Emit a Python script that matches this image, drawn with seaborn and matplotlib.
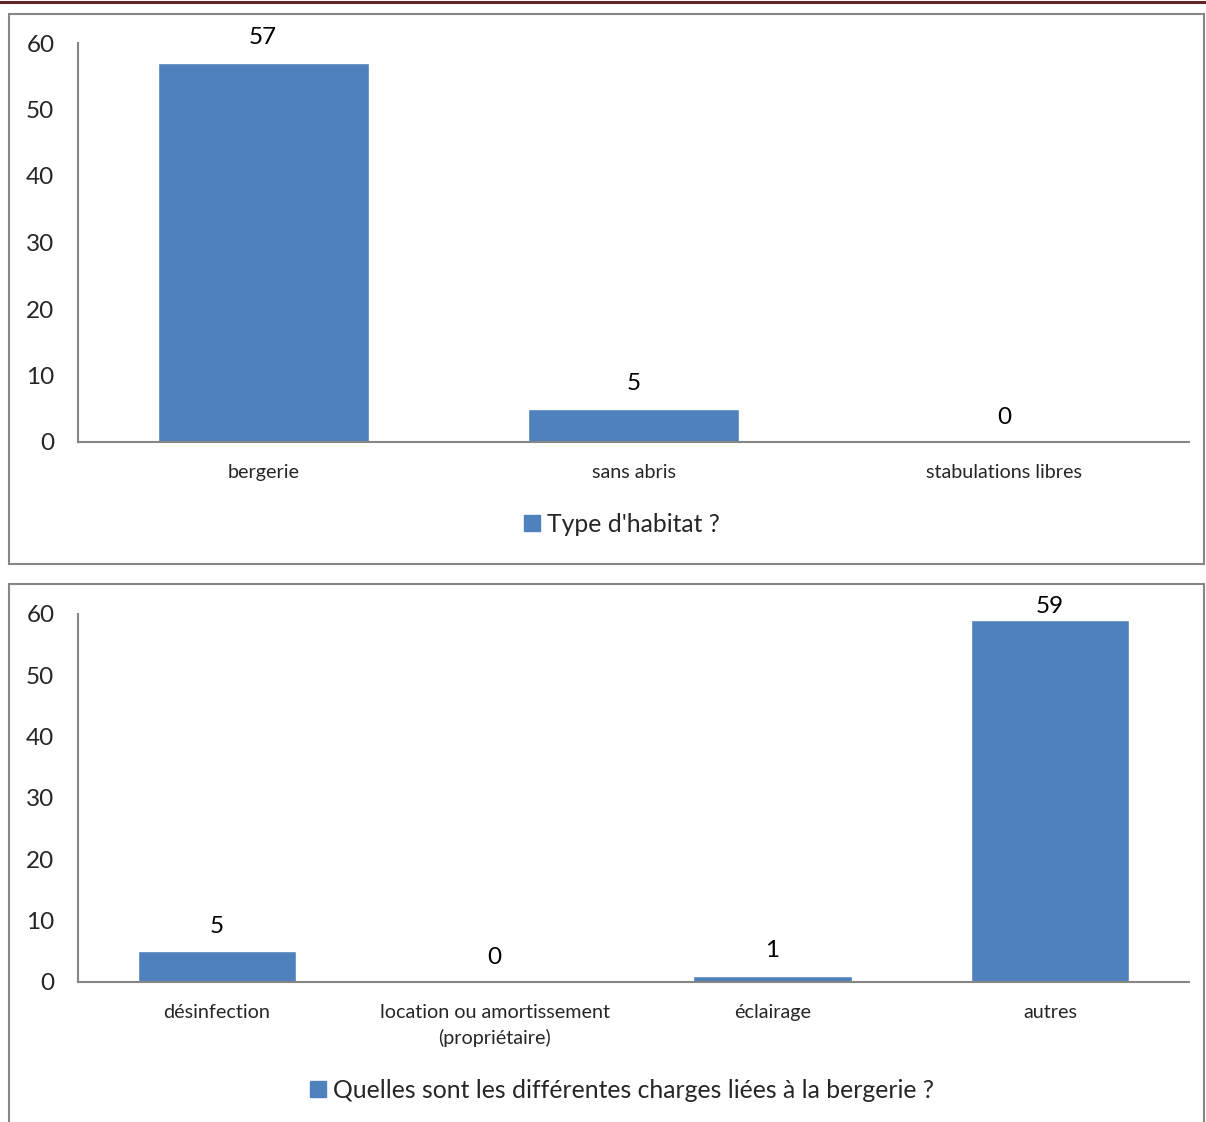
import matplotlib
matplotlib.use("Agg")
import matplotlib.pyplot as plt
import seaborn as sns
from matplotlib.patches import Rectangle, Patch
from matplotlib.lines import Line2D

sns.set_theme(style="white")
plt.rcParams['font.family'] = ['Lato', 'DejaVu Sans']

# ---- data ----
habitat_cats = ["bergerie", "sans abris", "stabulations libres"]
habitat_vals = [57, 5, 0]
habitat_title = "Type d'habitat ?"

charges_cats = ["désinfection", "location ou amortissement\n(propriétaire)", "éclairage", "autres"]
charges_vals = [5, 0, 1, 59]
charges_title = "Quelles sont les différentes charges liées à la bergerie ?"

yticks = [0, 10, 20, 30, 40, 50, 60]

BAR = "#4F81BD"
GREY = "#868686"
W, H = 1206, 1122

fig = plt.figure(figsize=(W / 100, H / 100), dpi=100)

def fx(px):
    return px / W

def fy(py):
    return 1 - py / H

# header line
fig.add_artist(Line2D([0, 1], [fy(2), fy(2)], color="#632523", lw=2.2, transform=fig.transFigure))
# chart boxes
fig.add_artist(Rectangle((fx(9), fy(564)), fx(1204) - fx(9), fy(14) - fy(564),
                         transform=fig.transFigure, fill=False, ec=GREY, lw=1.5))
fig.add_artist(Rectangle((fx(9), fy(1140)), fx(1204) - fx(9), fy(584) - fy(1140),
                         transform=fig.transFigure, fill=False, ec=GREY, lw=1.5, clip_on=False))


def draw(cats, vals, title, x0, x1, ytop, ybot, leg_y):
    ax = fig.add_axes([fx(x0), fy(ybot), fx(x1) - fx(x0), fy(ytop) - fy(ybot)])
    sns.barplot(x=cats, y=vals, color=BAR, width=0.57, ax=ax, saturation=1)
    ax.set_ylim(0, 60)
    ax.set_xlim(-0.5, len(cats) - 0.5)
    ax.set_yticks(yticks)
    ax.tick_params(axis="y", labelsize=17.5, pad=17, length=0)
    ax.tick_params(axis="x", labelsize=14.2, pad=15.5, length=0)
    for s in ["top", "right"]:
        ax.spines[s].set_visible(False)
    for s in ["left", "bottom"]:
        ax.spines[s].set_color(GREY)
        ax.spines[s].set_linewidth(1.5)
    for lbl in ax.get_xticklabels():
        lbl.set_linespacing(1.55)
    ppu = (ybot - ytop) / 60.0  # pixels per data unit
    for i, v in enumerate(vals):
        above_px = min(25, (60 - v) * ppu + 8)
        ax.annotate(str(v), (i, v), xytext=(0, above_px * 0.72), textcoords="offset points",
                    ha="center", va="center", fontsize=17.5, color="black")
    ax.set_xlabel("")
    ax.set_ylabel("")
    ax.legend(handles=[Patch(color=BAR, label=title)], loc="center",
              bbox_to_anchor=(fx(622), fy(leg_y)), bbox_transform=fig.transFigure,
              frameon=False, fontsize=17.8, handlelength=0.65, handleheight=0.65,
              handletextpad=0.3)
    return ax


draw(habitat_cats, habitat_vals, habitat_title, 78, 1189, 43, 442, 524)
draw(charges_cats, charges_vals, charges_title, 78, 1189, 614, 982, 1090)

fig.savefig("out.png", dpi=100)
